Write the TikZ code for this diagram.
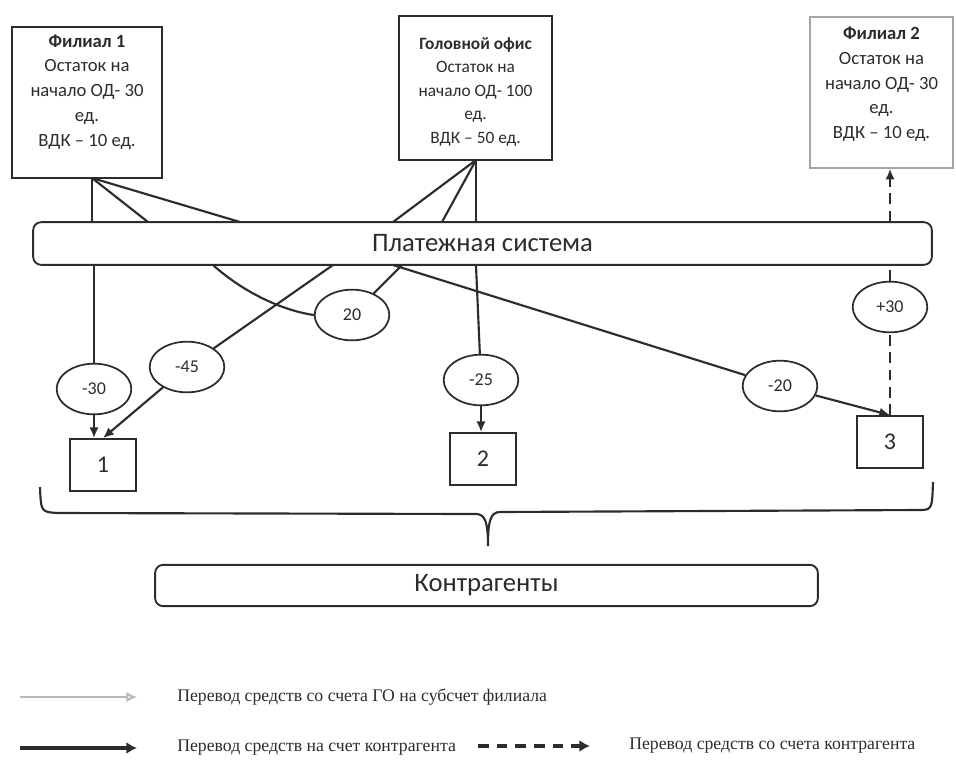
\documentclass[tikz,border=0pt]{standalone}
\usepackage{fontspec}
\setmainfont{Carlito}
\newfontfamily\legfont{Liberation Serif}
\usepackage{xcolor}
\usetikzlibrary{arrows.meta,positioning,shapes.geometric,calc}
\definecolor{ink}{HTML}{2c2c2c}

\begin{document}
\begin{tikzpicture}[x = .75pt, y = -.75pt, >={Latex[length=8pt,width=7pt]},
  line/.style = {draw = ink, line width = 1.6pt},
  dline/.style = {line, dash pattern = on 8pt off 5pt},
  acc/.style = {draw = ink, line width = 1.4pt, inner sep = 0pt},
  acctxt/.style = {font = \fontsize{14}{18.6}\selectfont, align = center, inner sep = 0pt, text = ink},
  bar/.style = {draw = ink, line width = 1.4pt, rounded corners = 6pt, font = \fontsize{20}{22}\selectfont, text = ink},
  sum/.style = {ellipse, draw = ink, line width = 1.3pt, minimum width = 56pt, minimum height = 38pt, inner sep = 0pt, font = \fontsize{13.5}{16}\selectfont, text = ink},
  cpart/.style = {draw = ink, line width = 1.4pt, minimum width = 49pt, minimum height = 39pt, inner sep = 0pt, font = \fontsize{18}{20}\selectfont, text = ink},
  legtxt/.style = {anchor = west, inner sep = 0pt, font = \legfont\fontsize{13.3}{15}\selectfont, text = ink}]
\useasboundingbox (0,0) rectangle (956,769);

% account holders
\node[acc, minimum width = 112.5pt, minimum height = 113pt] (fil1) at (87,102.5) {};
\node[acctxt, anchor = north] (fil1t) at ([yshift = -6pt]fil1.north) {\textbf{Филиал 1}\\Остаток на\\начало ОД- 30\\ед.\\ВДК -- 10 ед.};
\node[acc, minimum width = 115pt, minimum height = 108pt] (ho) at (475.5,88) {};
\node[acctxt, anchor = north, font = \fontsize{13}{17.6}\selectfont] (hot) at ([yshift = -16.5pt]ho.north) {\textbf{Головной офис}\\Остаток на\\начало ОД- 100\\ед.\\ВДК -- 50 ед.};
\node[acc, draw = gray!70, minimum width = 107pt, minimum height = 113pt] (fil2) at (881.5,92.5) {};
\node[acctxt, anchor = north] (fil2t) at ([yshift = -7.75pt]fil2.north) {\textbf{Филиал 2}\\Остаток на\\начало ОД- 30\\ед.\\ВДК -- 10 ед.};

\node[bar, minimum width = 674pt, minimum height = 32pt] (pay) at (482.5,243.5) {Платежная система};

% sums
\node[sum] (s30) at (94,389) {-30};
\node[sum] (s45) at (187,367) {-45};
\node[sum] (s20) at (352,315) {20};
\node[sum] (s25) at (481,380) {-25};
\node[sum] (s20r) at (780,386) {-20};
\node[sum] (p30) at (890,307) {+30};

% counterparties
\node[cpart] (k1) at (103,465) {1};
\node[cpart] (k2) at (483,459) {2};
\node[cpart] (k3) at (890,442) {3};
\node[bar, minimum width = 497pt, minimum height = 31pt] (kontr) at (486.5,585.5) {Контрагенты};

% points on the bar
\coordinate (f1o) at (92,178);
\coordinate (f1b) at (148,222);
\coordinate (f1c) at (240,222);
\coordinate (hoo) at (476,160);
\coordinate (hob) at (393,222);
\coordinate (hoc) at (442,222);
\coordinate (b1) at (213,265);
\coordinate (b2) at (402,265);
\coordinate (b3) at (333,265);
\coordinate (b4) at (393,265);

\draw[line] (f1o) -- (f1o |- pay.north);
\draw[line] (f1o) -- (f1b);
\draw[line] (f1o) -- (f1c);
\draw[line] (hoo) -- (hoo |- pay.north);
\draw[line] (hoo) -- (hob);
\draw[line] (hoo) -- (hoc);

\draw[line] (s30 |- pay.south) -- (s30);
\draw[line, ->] (s30) -- (s30 |- k1.north);
\draw[line] (b1) .. controls (242,291) and (280,310) .. (s20.west);
\draw[line] (s20) -- (b2);
\draw[line] (b3) -- (s45);
\draw[line, ->] (s45) -- (k1.north);
\draw[line] (hoo |- pay.south) -- (s25);
\draw[line, ->] (s25) -- (s25 |- k2.north);
\draw[line] (b4) -- (s20r);
\draw[line, ->] (s20r) -- (k3.north);

\draw[dline] (k3.north) -- (p30);
\draw[dline] (p30) -- (p30 |- pay.south);
\draw[dline, ->] (p30 |- pay.north) -- (p30 |- fil2.south);

% brace
\draw[line] (40,487) .. controls (41,512) .. (58,513) -- (476,514)
  .. controls (485,514) and (488,522) .. (488,546)
  .. controls (488,522) and (490,512) .. (500,512) -- (918,510)
  .. controls (932,510) .. (933,482);

% legend
\coordinate (l1a) at (20,697);
\coordinate (l1b) at (137,697);
\coordinate (l2a) at (20,748);
\coordinate (l2b) at (137,748);
\coordinate (l3a) at (478,746);
\coordinate (l3b) at (590,746);
\draw[draw = gray!55, line width = 1.6pt, -{Latex[open, length=8pt, width=8pt]}] (l1a) -- (l1b);
\node[legtxt] (l1t) at (177,697) {Перевод средств со счета ГО на субсчет филиала};
\draw[draw = ink, line width = 3.2pt, -{Latex[length=8pt, width=9pt]}] (l2a) -- (l2b);
\node[legtxt] (l2t) at (177,748) {Перевод средств на счет контрагента};
\draw[draw = ink, line width = 2.6pt, dash pattern = on 8pt off 6pt, -{Latex[length=8pt, width=9pt]}] (l3a) -- (l3b);
\node[legtxt] (l3t) at (629,746) {Перевод средств со счета контрагента};
\end{tikzpicture}
\end{document}
